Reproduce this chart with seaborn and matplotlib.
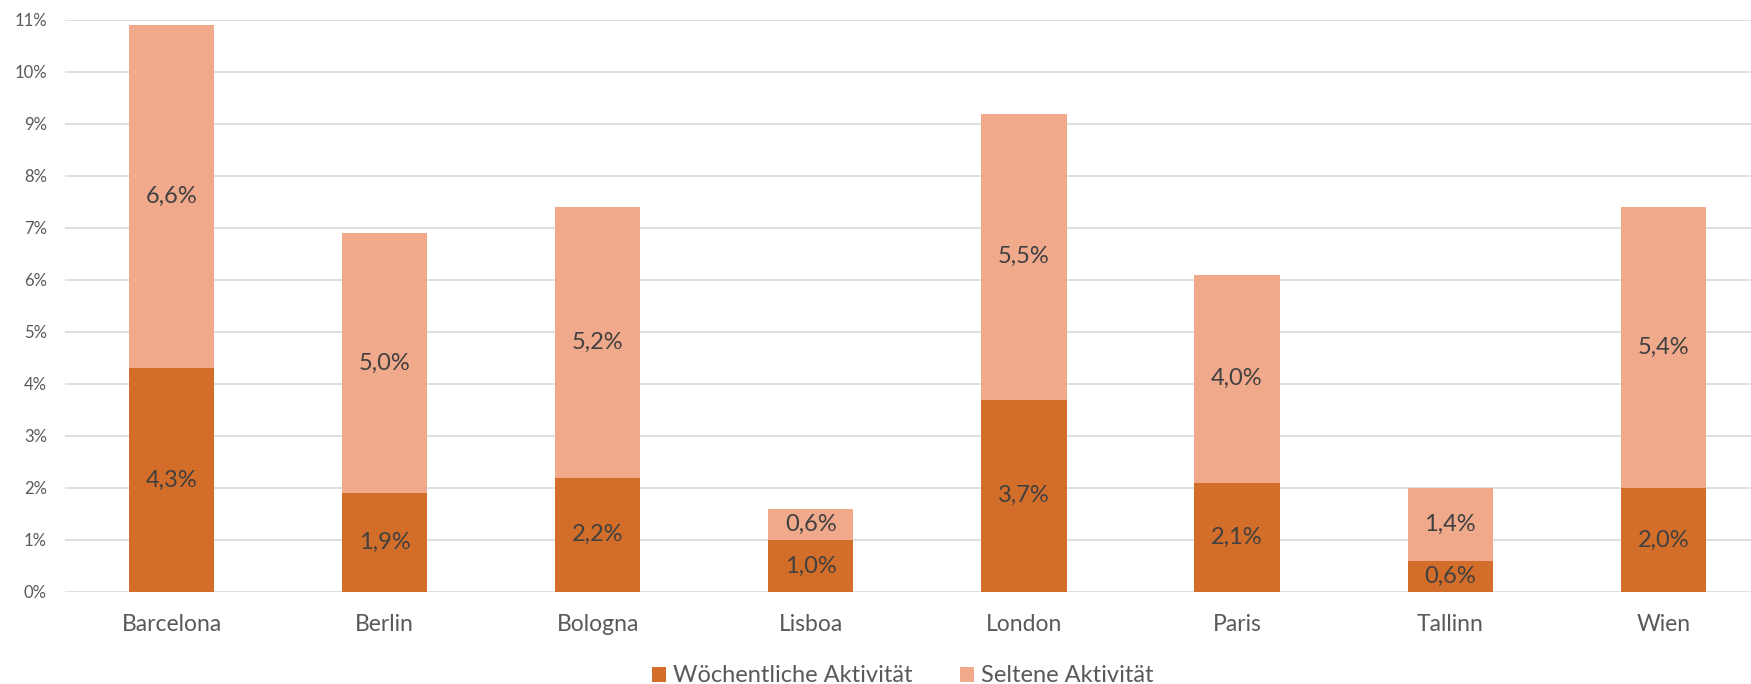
import matplotlib
matplotlib.use("Agg")
import matplotlib.pyplot as plt
import seaborn as sns
import pandas as pd
from matplotlib.patches import Patch

cities = ["Barcelona", "Berlin", "Bologna", "Lisboa", "London", "Paris", "Tallinn", "Wien"]
weekly = [4.3, 1.9, 2.2, 1.0, 3.7, 2.1, 0.6, 2.0]
rare = [6.6, 5.0, 5.2, 0.6, 5.5, 4.0, 1.4, 5.4]
series_names = ["Wöchentliche Aktivität", "Seltene Aktivität"]
y_ticks = list(range(0, 12))

dark = "#D26E2A"
light = "#F0A98B"

sns.set_theme(style="white")
plt.rcParams["font.family"] = ["Lato", "DejaVu Sans"]

df = pd.DataFrame({"city": cities, "weekly": weekly, "rare": rare})
df["total"] = df["weekly"] + df["rare"]

W, H = 1751, 684
fig = plt.figure(figsize=(W / 100, H / 100), dpi=100)
left, right_px = 65, 65 + 8 * 213.1
bottom_px, top_px = 592, 20
ax = fig.add_axes([left / W, (H - bottom_px) / H, (right_px - left) / W, (bottom_px - top_px) / H])

sns.barplot(data=df, x="city", y="total", color=light, width=0.4, ax=ax, saturation=1, zorder=3)
sns.barplot(data=df, x="city", y="weekly", color=dark, width=0.4, ax=ax, saturation=1, zorder=3)
for p in ax.patches:
    p.set_edgecolor("none")

for i, (w, r) in enumerate(zip(weekly, rare)):
    ax.text(i, w / 2, f"{w:.1f}%".replace(".", ","), ha="center", va="center",
            fontsize=17, color="#404040", zorder=4)
    ax.text(i, w + r / 2, f"{r:.1f}%".replace(".", ","), ha="center", va="center",
            fontsize=17, color="#404040", zorder=4)

ax.set_xlim(-0.5, 7.5)
ax.set_ylim(0, 11)
ax.set_yticks(y_ticks)
ax.set_yticklabels([f"{t}%" for t in y_ticks])
ax.yaxis.grid(True, color="#D9D9D9", linewidth=1.2, zorder=0)
ax.set_axisbelow(True)
for s in ax.spines.values():
    s.set_visible(False)
ax.tick_params(axis="y", length=0, labelsize=12, labelcolor="#595959", pad=13)
ax.tick_params(axis="x", length=0, labelsize=16.5, labelcolor="#595959", pad=16)
ax.set_xlabel("")
ax.set_ylabel("")

handles = [Patch(facecolor=dark, edgecolor="none"), Patch(facecolor=light, edgecolor="none")]
fig.legend(handles, series_names, loc="center", bbox_to_anchor=(903 / W, 1 - 676 / H),
           ncol=2, frameon=False, fontsize=17, labelcolor="#595959",
           handlelength=0.6, handleheight=0.6, handletextpad=0.3, columnspacing=2.0)

fig.savefig("out.png", dpi=100, facecolor="white")
